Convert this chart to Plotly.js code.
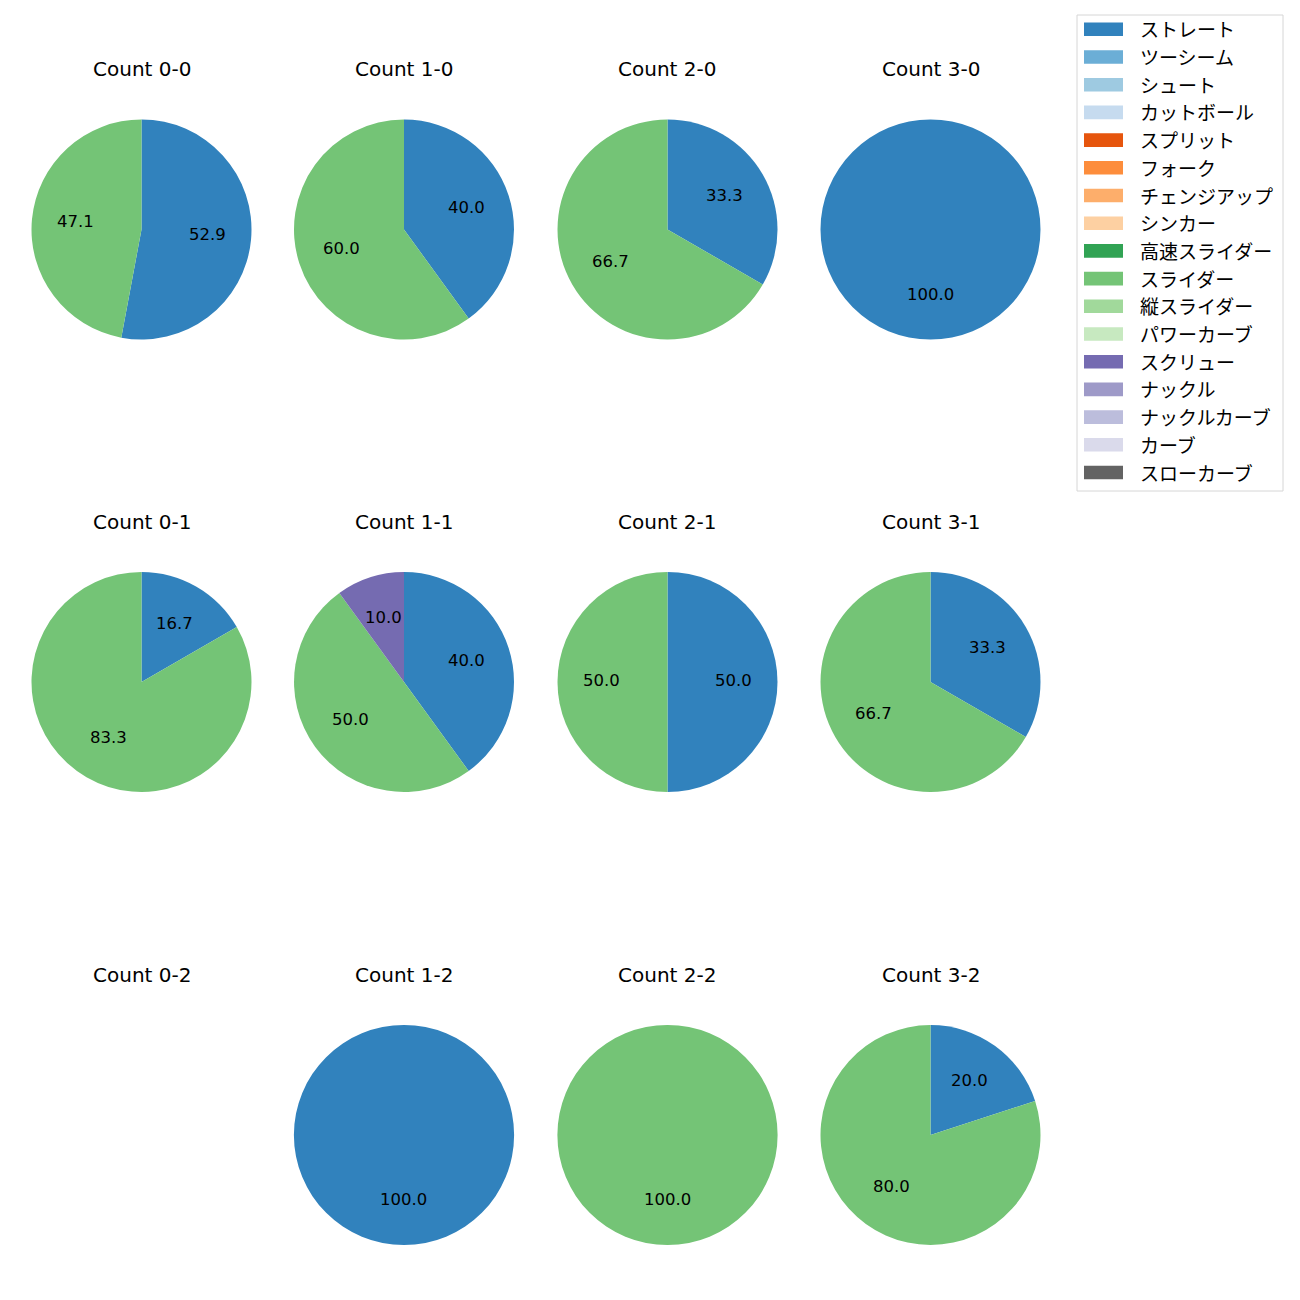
<!DOCTYPE html>
<html>
<head>
<meta charset="utf-8">
<script src="https://cdn.plot.ly/plotly-3.0.1.min.js"></script>
<style>html,body{margin:0;padding:0;background:#fff;}#chart{width:1300px;height:1300px;}</style>
</head>
<body>
<div id="chart"></div>
<script>
// ---- data ----
const pitchTypes = ['ストレート','ツーシーム','シュート','カットボール','スプリット','フォーク','チェンジアップ','シンカー','高速スライダー','スライダー','縦スライダー','パワーカーブ','スクリュー','ナックル','ナックルカーブ','カーブ','スローカーブ'];
const pitchColors = ['#3182bd','#6baed6','#9ecae1','#c6dbef','#e6550d','#fd8d3c','#fdae6b','#fdd0a2','#31a354','#74c476','#a1d99b','#c7e9c0','#756bb1','#9e9ac8','#bcbddc','#dadaeb','#636363'];
const countTitles = ['Count 0-0','Count 1-0','Count 2-0','Count 3-0',
                     'Count 0-1','Count 1-1','Count 2-1','Count 3-1',
                     'Count 0-2','Count 1-2','Count 2-2','Count 3-2'];
// pitch counts per ball-strike count (same order as countTitles)
const straightCounts = [9, 2, 1, 1,  1, 4, 1, 1,  0, 1, 0, 1];
const sliderCounts   = [8, 3, 2, 0,  5, 5, 1, 2,  0, 0, 1, 4];
const screwCounts    = [0, 0, 0, 0,  0, 1, 0, 0,  0, 0, 0, 0];

// ---- layout geometry ----
const W = 1300, H = 1300;
const colX = [141.5, 404, 667.5, 930.5];
const rowY = [229.5, 682, 1135];
const R = 110;
const LATIN = '"DejaVu Sans", "Noto Sans CJK JP", sans-serif';
const CJK = '"Noto Sans CJK JP", "DejaVu Sans", sans-serif';

const traces = [];
const annotations = [];
const shapes = [];

countTitles.forEach((title, i) => {
  const cx = colX[i % 4], cy = rowY[Math.floor(i / 4)];
  annotations.push({
    text: title, xref: 'paper', yref: 'paper',
    x: cx / W, y: 1 - (cy - 160.5) / H, xanchor: 'center', yanchor: 'middle',
    showarrow: false, font: {family: LATIN, size: 20, color: '#000'}
  });
  const vals = [], labs = [], cols = [];
  const byType = {'ストレート': straightCounts[i], 'スライダー': sliderCounts[i], 'スクリュー': screwCounts[i]};
  pitchTypes.forEach((p, k) => {
    const v = byType[p] || 0;
    if (v > 0) { vals.push(v); labs.push(p); cols.push(pitchColors[k]); }
  });
  if (vals.length === 0) return;
  traces.push({
    type: 'pie', values: vals, labels: labs, sort: false, direction: 'clockwise', rotation: 0,
    marker: {colors: cols, line: {width: 0}}, textinfo: 'none', hoverinfo: 'label+percent',
    showlegend: false,
    domain: {x: [(cx - R) / W, (cx + R) / W], y: [1 - (cy + R) / H, 1 - (cy - R) / H]}
  });
  // percentage labels at 0.6 radius, matplotlib-style
  const total = vals.reduce((a, b) => a + b, 0);
  let start = 90;
  vals.forEach(v => {
    const sweep = v / total * 360;
    const mid = (start - sweep / 2) * Math.PI / 180;
    const tx = cx + 0.6 * R * Math.cos(mid);
    const ty = cy - 0.6 * R * Math.sin(mid) - 1.5;
    annotations.push({
      text: (v / total * 100).toFixed(1), xref: 'paper', yref: 'paper',
      x: tx / W, y: 1 - ty / H, xanchor: 'center', yanchor: 'middle',
      showarrow: false, font: {family: LATIN, size: 16.5, color: '#000'}
    });
    start -= sweep;
  });
});

// ---- legend (drawn manually) ----
const lgX0 = 1077, lgX1 = 1283, lgY0 = 15, lgY1 = 491;
shapes.push({type: 'rect', xref: 'paper', yref: 'paper',
  x0: lgX0 / W, x1: lgX1 / W, y0: 1 - lgY1 / H, y1: 1 - lgY0 / H,
  line: {color: '#d6d6d6', width: 1}, fillcolor: 'rgba(255,255,255,0.8)'});
pitchTypes.forEach((p, k) => {
  const yc = 29.3 + k * 27.7;
  shapes.push({type: 'rect', xref: 'paper', yref: 'paper',
    x0: 1084 / W, x1: 1123 / W, y0: 1 - (yc + 6.8) / H, y1: 1 - (yc - 6.8) / H,
    line: {width: 0}, fillcolor: pitchColors[k]});
  annotations.push({text: p, xref: 'paper', yref: 'paper', x: 1138 / W, y: 1 - (yc - 0.5) / H,
    xanchor: 'left', yanchor: 'middle', showarrow: false,
    font: {family: CJK, size: 19, color: '#000'}});
});

Plotly.newPlot('chart', traces, {
  width: W, height: H, margin: {l: 0, r: 0, t: 0, b: 0},
  paper_bgcolor: '#fff', plot_bgcolor: '#fff', showlegend: false,
  annotations: annotations, shapes: shapes
}, {staticPlot: true});
</script>
</body>
</html>
